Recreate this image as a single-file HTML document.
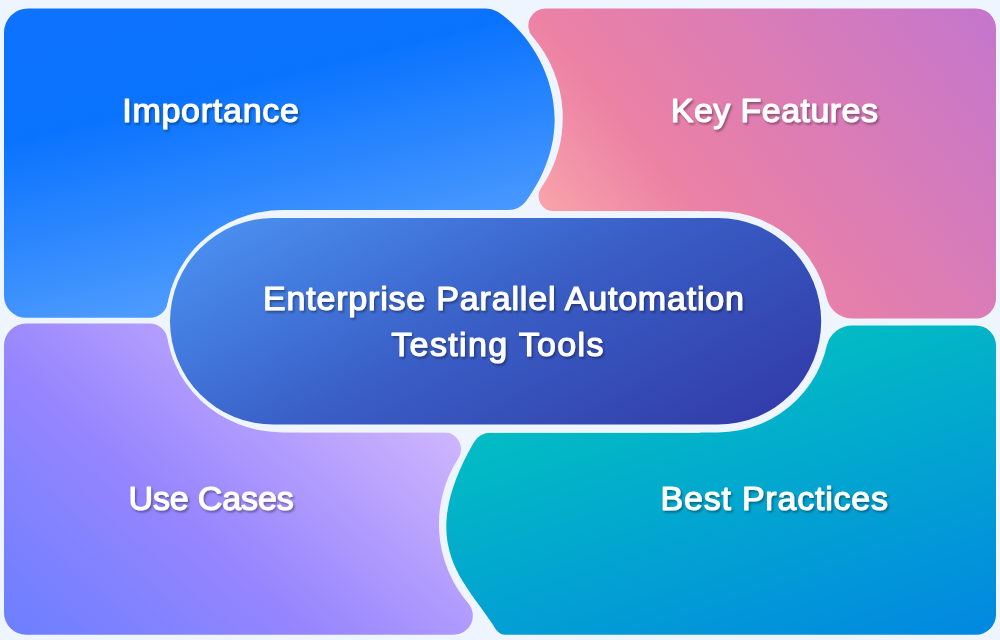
<!DOCTYPE html>
<html><head><meta charset="utf-8"><style>
html,body{margin:0;padding:0;background:#eef5ff;}
svg{display:block;}
text{font-family:"Liberation Sans",sans-serif;font-weight:400;font-size:34px;fill:#fff;stroke:#fff;stroke-width:1.15px;stroke-linejoin:round;}
</style></head><body>
<svg width="1000" height="640" viewBox="0 0 1000 640">
<defs><linearGradient id="gb" gradientUnits="userSpaceOnUse" x1="2.23" y1="8.93" x2="81.47" y2="326.8"><stop offset="0" stop-color="#0d72fe"/><stop offset="0.4" stop-color="#0a73fe"/><stop offset="1" stop-color="#4c9afe"/></linearGradient><linearGradient id="gp" gradientUnits="userSpaceOnUse" x1="222.95" y1="-180.55" x2="597.36" y2="-483.74"><stop offset="0" stop-color="#f8a4ab"/><stop offset="0.25" stop-color="#ec81a4"/><stop offset="1" stop-color="#c476cd"/></linearGradient><linearGradient id="gt" gradientUnits="userSpaceOnUse" x1="174.15" y1="536.04" x2="281.62" y2="866.83"><stop offset="0" stop-color="#02bcc3"/><stop offset="1" stop-color="#0287e1"/></linearGradient><linearGradient id="gu" gradientUnits="userSpaceOnUse" x1="-313.81" y1="348.51" x2="-8.83" y2="9.81"><stop offset="0" stop-color="#6b7fff"/><stop offset="0.45" stop-color="#9685fe"/><stop offset="1" stop-color="#cfb6fd"/></linearGradient><linearGradient id="gc" gradientUnits="userSpaceOnUse" x1="150.38" y1="271.3" x2="355.02" y2="640.47"><stop offset="0" stop-color="#498dee"/><stop offset="0.5" stop-color="#395dc4"/><stop offset="1" stop-color="#323dab"/></linearGradient>
<filter id="sh" x="-10%" y="-30%" width="120%" height="160%"><feDropShadow dx="1.5" dy="2" stdDeviation="1.3" flood-color="#000" flood-opacity="0.36"/></filter>
</defs>
<rect width="1000" height="640" fill="#eef5ff"/>
<path d="M4,32.5 A24,24 0 0 1 28,8.5 L485.96,8.5 Q491.96,8.5 497.19,11.44 C532.12,33.34 589.73,112.87 525.98,201.26 Q519.3,210 508.3,210 L300,210 L300,300 L167.6,302.92 A18,18 0 0 1 149.87,317.8 L26,317.8 A22,22 0 0 1 4,295.8 Z" fill="url(#gb)"/>
<path d="M545.33,8.5 L976,8.5 A20,20 0 0 1 996,28.5 L996,298.4 A20,20 0 0 1 976,318.4 L852.21,318.4 A26,26 0 0 1 826.81,297.97 L700,300 L700,211.2 L553.65,211.2 A15,15 0 0 1 541.25,187.76 A124.2,124.2 0 0 0 532.47,36.62 A17,17 0 0 1 545.33,8.5 Z" fill="url(#gp)"/>
<path d="M4,345.5 A22,22 0 0 1 26,323.5 L149.67,323.5 A18,18 0 0 1 167.42,338.56 L300,343 L300,432.2 L443.92,432.2 A17,17 0 0 1 458.22,458.39 A121.6,121.6 0 0 0 468.27,603.32 A19,19 0 0 1 453.85,634.7 L26,634.7 A22,22 0 0 1 4,612.7 Z" fill="url(#gu)"/>
<path d="M826.76,345.97 A26,26 0 0 1 852.14,325.6 L976,325.6 A20,20 0 0 1 996,345.6 L996,614.7 A20,20 0 0 1 976,634.7 L505.92,634.7 Q498.92,634.7 495.41,628.64 C466.67,581.51 413.84,547.19 473.6,442.64 Q479.47,432.75 490.97,432.75 L700,432.75 L700,340 Z" fill="url(#gt)"/>
<path d="M282.9,210 L525,210 L531,211.2 L717.9,211.2 A111.5,110.65 0 0 1 717.9,432.5 L282.9,432.5 A116.9,111.25 0 0 1 282.9,210 Z" fill="#eef5ff"/>
<rect x="170" y="218" width="651.2" height="206.6" rx="103.3" fill="url(#gc)"/>
<g filter="url(#sh)"><text x="122.2" y="122" textLength="176.8" lengthAdjust="spacing">Importance</text><text x="670.8" y="121.8" textLength="207.1" lengthAdjust="spacing">Key Features</text><text x="263" y="310" textLength="481" lengthAdjust="spacing">Enterprise Parallel Automation</text><text x="391.25" y="356.25" textLength="212.25" lengthAdjust="spacing">Testing Tools</text><text x="128.5" y="509.9" textLength="165.2" lengthAdjust="spacing">Use Cases</text><text x="660.5" y="510" textLength="227.5" lengthAdjust="spacing">Best Practices</text></g>
</svg>
</body></html>
